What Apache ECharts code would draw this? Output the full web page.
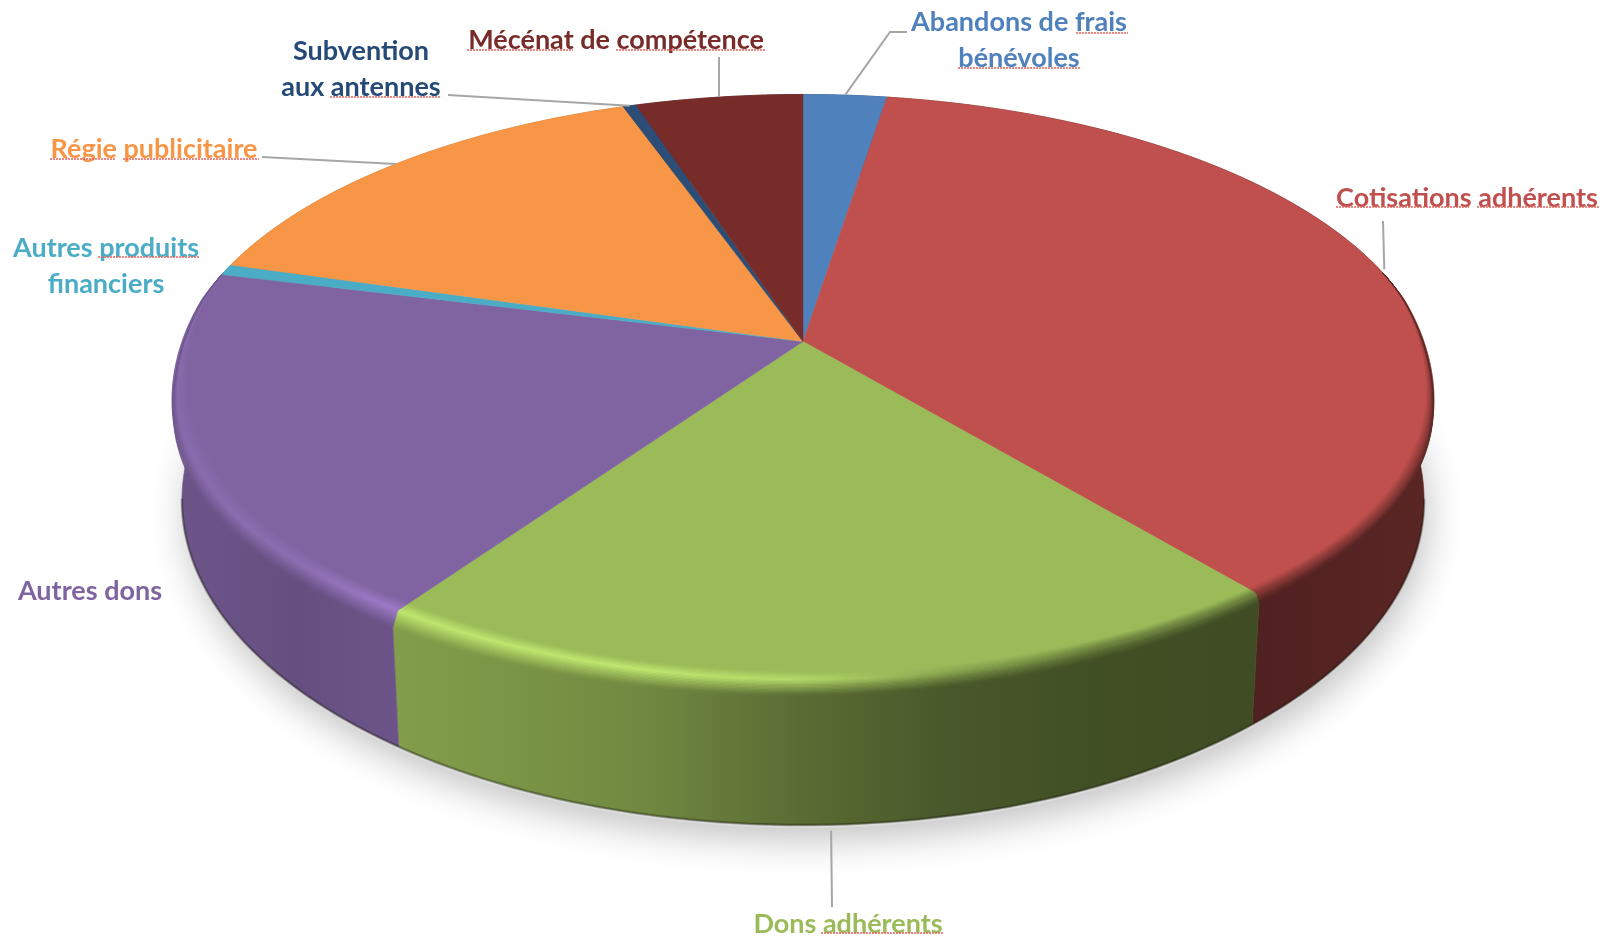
<!DOCTYPE html>
<html lang="fr">
<head>
<meta charset="utf-8">
<title>Répartition des produits</title>
<style>
  html, body { margin: 0; padding: 0; background: #fff; }
  #chart { width: 1608px; height: 937px; }
</style>
</head>
<body>
<div id="chart"></div>
<script src="https://cdn.jsdelivr.net/npm/echarts@6/dist/echarts.min.js"></script>
<script>
// values are %, clockwise from the top
const categories = [
  'Abandons de frais\nbénévoles', 'Cotisations adhérents', 'Dons adhérents', 'Autres dons',
  'Autres produits\nfinanciers', 'Régie publicitaire', 'Subvention\naux antennes', 'Mécénat de compétence'
]
const values = [2.5, 36.4, 20.8, 19.2, 0.6, 15.1, 0.4, 5.0]
const sliceColors = ['#4f81bd', '#c0504d', '#9bbb59', '#8064a2', '#4bacc6', '#f79646', '#2c4d75', '#772c2a']
const labelColors = ['#4f81bd', '#c0504d', '#9bbb59', '#8064a2', '#4bacc6', '#f79646', '#254a78', '#772c2a']

// label layout, same order as categories
const labelCenters = [[1019, 40], [1467, 198], [848, 924], [90, 591], [106, 266], [154, 149], [361, 69], [616, 40]]
// where each leader starts, null = no leader
const leaderStarts = [[[907, 32], [890, 32]], [[1383, 221]], [[832, 907]], null, null, [[262, 157]], [[448, 95]], [[719, 57]]]
const leaderGap = [0, -5, 6, 0, 0, 0, 0, 0]
const leaderNudge = [0, 0.025, 0.0055, 0, 0, 0, 0, 0]
// spell-check squiggles under some words: x0, x1, y
const squiggles = [
  [1076, 1128, 33], [958, 1081, 68], [1336, 1469, 207], [1477, 1599, 207], [821, 943, 933],
  [98, 199, 257], [50, 115, 159], [123, 259, 159], [330, 441, 97], [467, 573, 50], [616, 765, 50]
]

// projection of the pie disc: top rim and bottom rim
const cx = 803
const topRim = { y0: 341.5, A: 622.7, B: 286.9, k: 0.1614, sag: 15 }
const botRim = { y0: 447.6, A: 612.9, B: 316.5, k: 0.1614, sag: 0 }

// side light, as a factor of the face colour
const lightStops = [[170, 0.85], [300, 0.79], [390, 0.84], [500, 0.8], [650, 0.72], [800, 0.58], [950, 0.47], [1100, 0.42], [1250, 0.41], [1440, 0.47]]
// strength of the bright rim, same x positions
const shineStops = [0.45, 0.6, 1, 1, 1, 0.85, 0.3, 0, 0, 0]
const xMin = 170
const xMax = 1440
const bandCount = 18

const total = values.reduce((a, b) => a + b, 0)
const angles = []
let acc = 0
values.forEach(v => {
  angles.push([acc / total * Math.PI * 2, (acc + v) / total * Math.PI * 2])
  acc += v
})

const rgb = hex => [1, 3, 5].map(i => parseInt(hex.slice(i, i + 2), 16))
const mix = (a, b, f) => a.map((c, i) => c + (b[i] - c) * f)
const css = c => `rgb(${c.map(v => Math.round(Math.min(255, v))).join(',')})`
const clamp01 = v => Math.max(0, Math.min(1, v))

const project = (rim, t, r = 1) => {
  const d = 1 + rim.k * r * Math.cos(t)
  // the rim sits a little lower at its left and right ends
  const sag = rim.sag * r * Math.pow(Math.sin(t), 4) * clamp01((0.15 - Math.cos(t)) / 0.4)
  return [cx + rim.A * r * Math.sin(t) / d, rim.y0 - rim.B * r * Math.cos(t) / d + sag]
}

const arc = (a0, a1, fn) => {
  const n = Math.max(2, Math.ceil((a1 - a0) / 0.012))
  const pts = []
  for (let i = 0; i <= n; i++) pts.push(fn(a0 + (a1 - a0) * i / n))
  return pts
}

const hGradient = stopFn => new echarts.graphic.LinearGradient(xMin, 0, xMax, 0,
  lightStops.map((s, i) => ({ offset: (s[0] - xMin) / (xMax - xMin), color: css(stopFn(i)) })), true)

const wallColor = (face, i) => face.map(c => c * lightStops[i][1])

// rounded edge: starts on the face, peaks just inside the rim, ends on the wall.
// narrower on the dark side and fades out towards the back
const bandPoint = (t, u) => {
  const taper = clamp01((0.25 - Math.cos(t)) / 0.6)
  const side = 0.55 + 0.45 * clamp01((t - Math.PI * 0.7) / (Math.PI * 0.5))
  const w = taper * side
  if (u <= 0.35) return project(topRim, t, 1 - w * (0.035 - 0.023 * u / 0.35))
  const a = project(topRim, t, 1 - w * 0.012)
  const p = project(topRim, t)
  const q = project(botRim, t)
  const f = 0.1 * w
  const b = [p[0] + (q[0] - p[0]) * f, p[1] + (q[1] - p[1]) * f]
  const v = (u - 0.35) / 0.65
  return [a[0] + (b[0] - a[0]) * v, a[1] + (b[1] - a[1]) * v]
}
const bandColor = (face, i, u) => {
  const wall = wallColor(face, i)
  const rimCol = mix(mix(face, wall, 0.5), face.map(c => c * 1.24), shineStops[i])
  return u <= 0.35 ? mix(face, rimCol, u / 0.35) : mix(rimCol, wall, (u - 0.35) / 0.65)
}

const renderShadow = () => ({
  type: 'polygon',
  shape: { points: arc(0, Math.PI * 2, t => { const p = project(botRim, t); return [p[0], p[1] + 3] }) },
  style: { fill: '#dddddd', shadowBlur: 36, shadowColor: 'rgba(0,0,0,0.24)', shadowOffsetX: 4, shadowOffsetY: 12 }
})

const renderWall = params => {
  const i = params.dataIndex
  const face = rgb(sliceColors[i])
  const [a0, a1] = angles[i]
  const fill = hGradient(s => wallColor(face, s))
  const topEdge = arc(a0, a1, t => project(topRim, t))
  const botEdge = arc(a0, a1, t => project(botRim, t)).reverse()
  const children = [{
    type: 'polygon',
    shape: { points: topEdge.concat(botEdge) },
    style: { fill, stroke: fill, lineWidth: 0.6 }
  }]
  // dark line where the pie meets the ground
  const f0 = Math.max(a0, Math.PI * 0.55)
  const f1 = Math.min(a1, Math.PI * 1.45)
  if (f1 > f0) {
    children.push({
      type: 'polyline',
      shape: { points: arc(f0, f1, t => project(botRim, t)) },
      style: { fill: null, stroke: 'rgba(20,20,10,0.35)', lineWidth: 2.5 }
    })
  }
  return { type: 'group', children }
}

const renderFace = params => {
  const i = params.dataIndex
  const [a0, a1] = angles[i]
  const fill = sliceColors[i]
  const pts = [[cx, topRim.y0]].concat(arc(a0, a1, t => project(topRim, t)))
  return {
    type: 'polygon',
    shape: { points: pts },
    style: { fill, stroke: fill, lineWidth: 0.5 }
  }
}

const renderEdge = params => {
  const i = params.dataIndex
  const face = rgb(sliceColors[i])
  const a0 = Math.max(angles[i][0], Math.PI * 0.42)
  const a1 = Math.min(angles[i][1], Math.PI * 1.58)
  if (a1 <= a0) return { type: 'group', children: [] }
  const children = []
  for (let b = 0; b < bandCount; b++) {
    const u0 = b / bandCount
    const u1 = (b + 1) / bandCount
    const fill = hGradient(s => bandColor(face, s, (u0 + u1) / 2))
    const upper = arc(a0, a1, t => bandPoint(t, u0))
    const lower = arc(a0, a1, t => bandPoint(t, u1)).reverse()
    children.push({
      type: 'polygon',
      shape: { points: upper.concat(lower) },
      style: { fill, stroke: fill, lineWidth: 0.5 }
    })
  }
  return { type: 'group', children }
}

const renderLeader = params => {
  const i = params.dataIndex
  if (!leaderStarts[i]) return { type: 'group', children: [] }
  const mid = (angles[i][0] + angles[i][1]) / 2 + leaderNudge[i]
  const rim = mid > Math.PI / 2 && mid < Math.PI * 1.5 ? botRim : topRim
  const end = project(rim, mid)
  end[1] += leaderGap[i]
  return {
    type: 'polyline',
    shape: { points: leaderStarts[i].concat([end]) },
    style: { fill: null, stroke: '#a6a6a6', lineWidth: 2 }
  }
}

const customSeries = (renderItem, z, data = values) => ({
  type: 'custom',
  coordinateSystem: 'none',
  silent: true,
  animation: false,
  z,
  data,
  renderItem
})

const labelGraphics = categories.map((name, i) => ({
  type: 'text',
  x: labelCenters[i][0],
  y: labelCenters[i][1],
  style: {
    text: name,
    fill: labelColors[i],
    font: 'bold 27px Lato, "Open Sans", sans-serif',
    align: 'center',
    verticalAlign: 'middle',
    lineHeight: 36
  }
}))

const squiggleGraphics = squiggles.map(s => ({
  type: 'line',
  shape: { x1: s[0], y1: s[2], x2: s[1], y2: s[2] },
  style: { stroke: '#e8605a', lineWidth: 1.5, lineDash: [2, 1] }
}))

const chart = echarts.init(document.getElementById('chart'), null, { renderer: 'canvas' })
chart.setOption({
  backgroundColor: '#ffffff',
  animation: false,
  graphic: { elements: labelGraphics.concat(squiggleGraphics) },
  series: [
    customSeries(renderShadow, 1, [0]),
    customSeries(renderWall, 2),
    customSeries(renderFace, 3),
    customSeries(renderEdge, 4),
    customSeries(renderLeader, 5)
  ]
})
</script>
</body>
</html>
